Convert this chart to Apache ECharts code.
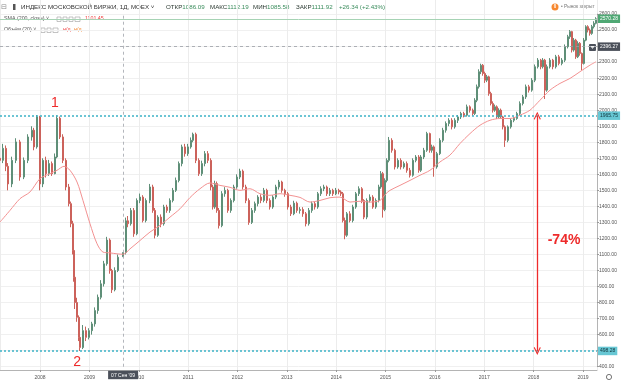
<!DOCTYPE html>
<html><head><meta charset="utf-8">
<script src="https://cdn.jsdelivr.net/npm/echarts@6/dist/echarts.min.js"></script>
<style>html,body{margin:0;padding:0;background:#fff}#c{width:622px;height:382px}</style>
</head><body><div id="c"></div>
<script>
// ---- data ----
const dates = [
'2007-03-11','2007-04-02','2007-04-24','2007-05-09','2007-06-08','2007-07-07','2007-08-06','2007-09-05','2007-10-04','2007-11-03',
'2007-11-18','2007-12-10','2008-01-01','2008-01-23','2008-02-14','2008-03-08','2008-03-30','2008-04-21','2008-05-06','2008-05-28',
'2008-06-19','2008-07-11','2008-08-03','2008-08-17','2008-09-01','2008-09-09','2008-09-16','2008-10-01','2008-10-16','2008-10-23',
'2008-11-14','2008-12-06','2008-12-29','2009-01-20','2009-02-11','2009-03-05','2009-03-27','2009-04-19','2009-05-11','2009-06-02',
'2009-06-17','2009-07-09','2009-07-31','2009-09-07','2009-09-28','2009-10-13','2009-11-04','2009-11-27','2009-12-19','2010-01-10',
'2010-02-01','2010-02-23','2010-03-25','2010-04-16','2010-05-01','2010-05-23','2010-06-14','2010-07-07','2010-07-29','2010-08-20',
'2010-09-11','2010-10-03','2010-10-26','2010-11-17','2010-12-09','2010-12-31','2011-01-22','2011-02-06','2011-02-28','2011-03-23',
'2011-04-14','2011-05-06','2011-05-28','2011-06-19','2011-07-04','2011-07-19','2011-08-03','2011-08-18','2011-09-09','2011-10-01',
'2011-10-23','2011-11-14','2011-12-07','2011-12-29','2012-01-20','2012-02-11','2012-03-04','2012-03-27','2012-04-18','2012-05-10',
'2012-06-01','2012-06-23','2012-07-16','2012-08-07','2012-08-29','2012-09-20','2012-10-12','2012-11-04','2012-11-26','2012-12-18',
'2013-01-09','2013-01-31','2013-02-23','2013-03-17','2013-04-08','2013-04-30','2013-05-22','2013-06-14','2013-07-06','2013-07-28',
'2013-08-19','2013-09-10','2013-10-03','2013-10-25','2013-11-16','2013-12-08','2013-12-30','2014-01-22','2014-02-05','2014-02-20',
'2014-03-07','2014-03-22','2014-04-13','2014-05-05','2014-05-27','2014-06-19','2014-07-11','2014-07-26','2014-08-17','2014-09-08',
'2014-09-30','2014-10-22','2014-11-14','2014-11-28','2014-12-13','2014-12-28','2015-01-12','2015-01-27','2015-02-18','2015-03-12',
'2015-04-03','2015-04-25','2015-05-18','2015-06-09','2015-07-01','2015-07-23','2015-08-14','2015-09-06','2015-09-20','2015-10-13',
'2015-11-04','2015-11-26','2015-12-11','2015-12-26','2016-01-17','2016-02-08','2016-03-01','2016-03-23','2016-04-15','2016-05-07',
'2016-05-29','2016-06-20','2016-07-12','2016-08-04','2016-08-26','2016-09-17','2016-10-09','2016-10-24','2016-11-08','2016-11-23',
'2016-12-07','2016-12-22','2017-01-06','2017-01-21','2017-02-05','2017-02-19','2017-03-06','2017-03-21','2017-04-05','2017-04-20',
'2017-05-04','2017-05-19','2017-06-03','2017-06-25','2017-07-17','2017-08-09','2017-08-31','2017-09-22','2017-10-14','2017-11-05',
'2017-11-28','2017-12-20','2018-01-11','2018-02-02','2018-02-24','2018-03-11','2018-03-26','2018-04-10','2018-05-02','2018-05-24',
'2018-06-15','2018-07-08','2018-07-30','2018-08-21','2018-09-12','2018-09-27','2018-10-12','2018-10-27','2018-11-10','2018-11-25',
'2018-12-10','2018-12-25','2019-01-09','2019-01-23','2019-02-07','2019-02-22','2019-03-09','2019-03-24','2019-04-08'
];
// [open, close, low, high]
const candles = [
[1700,1687,1650,1730],[1687,1762,1670,1790],[1762,1650,1620,1780],[1650,1540,1500,1670],[1540,1687,1520,1710],
[1687,1802,1670,1825],[1802,1583,1560,1815],[1583,1687,1570,1705],[1687,1833,1670,1850],[1833,1875,1810,1900],
[1875,1771,1750,1890],[1771,1958,1760,1970],[1958,1540,1500,1965],[1540,1687,1520,1700],[1687,1604,1580,1710],
[1604,1667,1590,1690],[1667,1604,1590,1680],[1604,1708,1600,1730],[1708,1950,1700,1968],[1950,1833,1820,1960],
[1833,1687,1670,1850],[1687,1521,1500,1700],[1521,1417,1400,1540],[1417,1292,1270,1430],[1292,1125,1100,1310],
[1125,958,930,1140],[958,800,760,1000],[800,708,680,830],[708,583,560,720],[583,520,498,600],
[520,625,510,660],[625,583,560,650],[583,625,570,640],[625,667,600,680],[667,750,650,770],
[750,833,730,850],[833,917,820,940],[917,1042,900,1060],[1042,1190,1030,1210],[1190,1000,980,1200],
[1000,880,860,1010],[880,1000,870,1020],[1000,1083,990,1100],[1086.09,1111.92,1085.58,1112.19],[1112,1310,1100,1330],
[1310,1292,1270,1340],[1292,1375,1280,1390],[1375,1229,1210,1390],[1229,1437,1220,1450],[1437,1458,1420,1480],
[1458,1312,1300,1470],[1312,1437,1300,1450],[1437,1521,1420,1540],[1521,1375,1360,1535],[1375,1220,1200,1390],
[1220,1333,1210,1345],[1333,1292,1270,1350],[1292,1396,1280,1410],[1396,1375,1360,1410],[1375,1437,1360,1450],
[1437,1500,1425,1515],[1500,1562,1490,1580],[1562,1667,1550,1680],[1667,1771,1650,1785],[1771,1729,1710,1790],
[1729,1771,1715,1790],[1771,1812,1760,1830],[1812,1850,1800,1860],[1850,1687,1670,1860],[1687,1604,1590,1700],
[1604,1667,1590,1685],[1667,1729,1650,1745],[1729,1687,1670,1745],[1687,1521,1500,1700],[1521,1396,1380,1535],
[1396,1542,1385,1560],[1542,1375,1360,1555],[1375,1280,1262,1390],[1280,1479,1270,1495],[1479,1500,1460,1520],
[1500,1375,1360,1510],[1375,1437,1360,1450],[1437,1521,1425,1535],[1521,1583,1510,1600],[1583,1620,1570,1635],
[1620,1521,1505,1630],[1521,1437,1420,1535],[1437,1300,1285,1450],[1300,1375,1290,1390],[1375,1417,1360,1430],
[1417,1458,1400,1470],[1458,1437,1420,1475],[1437,1500,1425,1515],[1500,1437,1420,1510],[1437,1396,1380,1450],
[1396,1458,1385,1470],[1458,1521,1445,1535],[1521,1552,1505,1565],[1552,1500,1485,1560],[1500,1479,1460,1510],
[1479,1396,1380,1490],[1396,1354,1340,1410],[1354,1420,1345,1435],[1420,1375,1360,1430],[1375,1380,1355,1395],
[1380,1354,1335,1395],[1354,1292,1275,1365],[1292,1375,1280,1390],[1375,1417,1360,1430],[1417,1396,1380,1430],
[1396,1479,1385,1490],[1479,1510,1465,1525],[1510,1521,1495,1535],[1521,1479,1465,1530],[1479,1500,1465,1515],
[1500,1479,1465,1510],[1479,1500,1470,1515],[1500,1490,1475,1510],[1490,1479,1465,1500],[1479,1312,1300,1490],
[1312,1220,1195,1330],[1220,1354,1210,1365],[1354,1312,1300,1370],[1312,1396,1300,1410],[1396,1479,1385,1490],
[1479,1510,1465,1525],[1510,1437,1420,1520],[1437,1333,1320,1445],[1333,1437,1320,1450],[1437,1458,1425,1475],
[1458,1396,1385,1470],[1396,1437,1385,1450],[1437,1521,1425,1535],[1521,1604,1510,1620],[1604,1380,1330,1615],
[1380,1562,1370,1575],[1562,1687,1550,1700],[1687,1812,1675,1833],[1812,1750,1735,1825],[1750,1646,1630,1760],
[1646,1687,1635,1700],[1687,1646,1630,1700],[1646,1667,1635,1680],[1667,1625,1610,1680],[1625,1594,1580,1640],
[1594,1687,1585,1700],[1687,1708,1675,1720],[1708,1625,1610,1720],[1625,1708,1615,1720],[1708,1750,1695,1765],
[1750,1854,1740,1865],[1854,1750,1735,1860],[1750,1771,1735,1785],[1771,1646,1585,1780],[1646,1729,1635,1740],
[1729,1812,1720,1825],[1812,1875,1800,1890],[1875,1917,1860,1930],[1917,1937,1900,1950],[1937,1896,1880,1950],
[1896,1937,1885,1950],[1937,1958,1920,1970],[1958,1979,1945,1990],[1979,1969,1955,1990],[1969,2021,1960,2035],
[2021,2000,1985,2030],[2000,1979,1965,2010],[1979,2062,1970,2075],[2062,2146,2050,2160],[2146,2240,2135,2255],
[2240,2280,2225,2290],[2280,2229,2215,2288],[2229,2187,2170,2240],[2187,2208,2175,2220],[2208,2104,2090,2215],
[2104,2042,2030,2115],[2042,2000,1985,2055],[2000,2021,1990,2035],[2021,1958,1945,2030],[1958,2000,1950,2012],
[2000,1958,1945,2010],[1958,1896,1880,1965],[1896,1812,1771,1905],[1812,1896,1800,1905],[1896,1937,1885,1950],
[1937,1948,1925,1960],[1948,1979,1940,1990],[1979,2042,1970,2055],[2042,2083,2030,2095],[2083,2146,2070,2160],
[2146,2125,2110,2158],[2125,2187,2115,2200],[2187,2271,2175,2285],[2271,2312,2260,2325],[2312,2271,2255,2320],
[2271,2312,2260,2325],[2312,2125,2070,2320],[2125,2271,2115,2285],[2271,2312,2260,2325],[2312,2271,2255,2320],
[2271,2333,2260,2345],[2333,2292,2280,2345],[2292,2312,2280,2325],[2312,2396,2300,2410],[2396,2458,2385,2470],
[2458,2490,2445,2500],[2490,2375,2360,2495],[2375,2437,2365,2450],[2437,2333,2320,2445],[2333,2417,2325,2430],
[2417,2354,2340,2425],[2354,2292,2250,2360],[2292,2437,2285,2450],[2437,2521,2430,2530],[2521,2500,2485,2530],
[2500,2479,2465,2510],[2479,2521,2470,2532],[2521,2542,2510,2555],[2542,2570.28,2535,2580]
];
const smaDates = [
'2007-03-11','2007-05-24','2007-08-06','2007-10-19','2008-01-01','2008-03-15','2008-05-06','2008-06-27','2008-08-10','2008-10-01',
'2008-11-14','2009-01-05','2009-02-26','2009-04-11','2009-06-02','2009-07-24','2009-09-07','2009-10-28','2010-01-10','2010-03-25',
'2010-06-07','2010-08-20','2010-11-02','2011-01-15','2011-03-30','2011-06-12','2011-08-25','2011-11-07','2012-01-20','2012-04-03',
'2012-06-16','2012-08-29','2012-11-11','2013-01-24','2013-04-08','2013-06-21','2013-09-03','2013-11-16','2014-01-29','2014-04-13',
'2014-06-26','2014-09-08','2014-11-21','2015-01-04','2015-02-03','2015-04-18','2015-07-01','2015-09-13','2015-11-26','2016-02-08',
'2016-04-22','2016-07-05','2016-09-17','2016-11-30','2017-02-12','2017-04-27','2017-07-10','2017-09-22','2017-12-05','2018-02-17',
'2018-05-02','2018-07-15','2018-09-27','2018-12-10','2019-02-22','2019-04-08'
];
const smaValues = [
1302,1375,1448,1490,1573,1604,1625,1650,1625,1552,
1437,1292,1167,1115,1110,1104,1101.45,1135,1187,1240,
1281,1333,1385,1455,1510,1546,1531,1519,1500,1510,
1479,1469,1479,1469,1456,1427,1437,1454,1458,1427,
1432,1427,1437,1479,1500,1531,1562,1594,1625,1677,
1720,1792,1854,1906,1937,1948,1948,1969,2000,2062,
2125,2167,2198,2240,2281,2302
];
const keyLevels = [1965.75, 498.28];      // dotted cyan levels
const lastPrice = 2570.28;
const crossPrice = 2396.27;
const crossDate = '2009-09-07';
const crossDateLabel = "07 Сен '09";
const arrowDate = '2018-01-28';
const notes = [
  {text:'1', date:'2008-04-21', value:2045},
  {text:'2', date:'2008-10-01', value:429},
  {text:'-74%', date:'2018-08-14', value:1190}
];
const header = {
  title: 'ИНДЕКС МОСКОВСКОЙ БИРЖИ, 1Д, MOEX',
  ohlc: [['ОТКР','1086.09'],['МАКС','1112.19'],['МИН','1085.58'],['ЗАКР','1111.92'],['','+26.34 (+2.43%)']],
  sma: 'SMA (200, close)', smaValue: '1101.45',
  vol: 'Объём (20)', volValues: ['н/д','н/д'],
  status: '• Рынок закрыт'
};

// ---- chart ----
function ts(s){const p=s.split('-').map(Number);return new Date(p[0],p[1]-1,p[2]).getTime();}
const YEAR = 365*24*3600*1000;
const xMin = ts('2007-03-11'), xMax = ts('2019-04-15');
const FONT = '"Liberation Sans", Arial, sans-serif';
const red = '#ee2b2b';
const chev = 'path://M0,9 L5,0 L10,9 L8.8,10 L5,3 L1.2,10 Z';

const chart = echarts.init(document.getElementById('c'), null, {renderer:'canvas'});
const ohlcX = [166,210,253,296,339];
const graphic = [
  {type:'text', x:1, y:7, style:{text:'⊟', font:'7px "DejaVu Sans"', fill:'#8a8a8a', verticalAlign:'middle'}},
  {type:'rect', shape:{x:13,y:4,width:2.5,height:6}, style:{fill:'#555'}},
  {type:'text', x:21, y:7, style:{text:header.title+' ˅', font:'6.2px '+FONT, fill:'#333', verticalAlign:'middle'}},
  {type:'text', x:4, y:19, style:{text:header.sma+' ˅', font:'5.3px '+FONT, fill:'#555', verticalAlign:'middle'}},
  {type:'text', x:85, y:19, style:{text:header.smaValue, font:'5.3px '+FONT, fill:'#f03c3c', verticalAlign:'middle'}},
  {type:'text', x:4, y:30, style:{text:header.vol+' ˅', font:'5.3px '+FONT, fill:'#555', verticalAlign:'middle'}},
  {type:'text', x:63, y:30, style:{text:header.volValues[0], font:'5.3px '+FONT, fill:'#f03c3c', verticalAlign:'middle'}},
  {type:'text', x:74, y:30, style:{text:header.volValues[1], font:'5.3px '+FONT, fill:'#f5862e', verticalAlign:'middle'}},
  {type:'circle', shape:{cx:555, cy:7, r:3.5}, style:{fill:'#f7882f'}},
  {type:'text', x:555, y:7, style:{text:'0', font:'bold 4.5px '+FONT, fill:'#fff', align:'center', verticalAlign:'middle'}},
  {type:'text', x:561, y:7, style:{text:header.status, font:'4.8px '+FONT, fill:'#787878', verticalAlign:'middle'}},
  {type:'rect', shape:{x:589,y:44,width:7,height:7,r:1}, style:{fill:'#4b505a'}},
  {type:'text', x:592.5, y:47.5, style:{text:'+', font:'6px '+FONT, fill:'#fff', align:'center', verticalAlign:'middle'}},
  {type:'circle', shape:{cx:609, cy:377, r:2.6}, style:{fill:'none', stroke:'#666', lineWidth:0.9}}
];
[[57,4],[63,4],[69,4],[75,5]].forEach(b=>graphic.push({type:'rect', shape:{x:b[0],y:17,width:b[1],height:4.5}, style:{fill:'#fff', stroke:'#aaa', lineWidth:0.7}}));
[[41,4],[47,4],[53,5]].forEach(b=>graphic.push({type:'rect', shape:{x:b[0],y:28,width:b[1],height:4.5}, style:{fill:'#fff', stroke:'#aaa', lineWidth:0.7}}));
header.ohlc.forEach((g,i)=>graphic.push({type:'text', x:ohlcX[i], y:7, style:{
  text:(g[0]?g[0]:'')+'{v|'+g[1]+'}', font:'6.2px '+FONT, fill:'#2c3a32', verticalAlign:'middle',
  rich:{v:{fill:'#3a8c5c', font:'6.2px '+FONT}}}}));

const rightLabel = (txt,bg,col)=>({show:true, position:'end', formatter:txt, backgroundColor:bg, color:col,
  fontSize:5, fontFamily:'Liberation Sans', padding:[2,2,1.5,2], distance:1});

const option = {
  backgroundColor:'#fff',
  animation:false,
  graphic: graphic,
  grid:[
    {left:0, right:25, top:14, bottom:15.3},
    {left:0, right:25, top:0, bottom:12}
  ],
  xAxis:[
    {type:'time', gridIndex:0, min:xMin, max:xMax, offset:3.3, minInterval:YEAR, maxInterval:YEAR,
     axisLine:{show:true, lineStyle:{color:'#b4b4b4', width:1}},
     axisTick:{show:true, length:2, lineStyle:{color:'#999'}},
     axisLabel:{fontSize:5, color:'#555', margin:5, fontFamily:'Liberation Sans',
       formatter:v=>String(new Date(v).getFullYear())},
     splitLine:{show:false}},
    {type:'time', gridIndex:1, min:xMin, max:xMax, minInterval:YEAR, maxInterval:YEAR,
     axisLine:{show:false}, axisTick:{show:false}, axisLabel:{show:false},
     splitLine:{show:true, lineStyle:{color:'#ececec', width:1}}}
  ],
  yAxis:[
    {type:'value', gridIndex:0, position:'right', min:400, max:2600, interval:100,
     axisLine:{show:true, lineStyle:{color:'#b4b4b4', width:1}},
     axisTick:{show:true, length:2, lineStyle:{color:'#999'}},
     axisLabel:{fontSize:5, color:'#555', margin:2, fontFamily:'Liberation Sans', formatter:v=>v.toFixed(2)},
     splitLine:{show:true, lineStyle:{color:'#f0f0f0', width:1}}},
    {type:'value', gridIndex:1, min:0, max:1, show:false, splitLine:{show:false}}
  ],
  series:[
    {type:'line', xAxisIndex:1, yAxisIndex:1, data:[], silent:true},
    {type:'candlestick', xAxisIndex:0, yAxisIndex:0, barWidth:1.6,
     data: dates.map((d,i)=>[ts(d)].concat(candles[i])),
     itemStyle:{color:'#6a9c84', color0:'#d3706a', borderColor:'#5f8f78', borderColor0:'#cc625b', borderWidth:1},
     markLine:{silent:true, symbol:'none', animation:false,
       data:[
         {yAxis:lastPrice, lineStyle:{color:'#a6d3b4', type:'solid', width:1},
          label:rightLabel(lastPrice.toFixed(2),'#4fa874','#fff')},
         {yAxis:crossPrice, lineStyle:{color:'#9a9ea6', type:[3,3], width:0.8},
          label:rightLabel(crossPrice.toFixed(2),'#4b505a','#fff')},
         {yAxis:keyLevels[0], lineStyle:{color:'#3db3c6', type:[2,2], width:1.5},
          label:rightLabel(keyLevels[0].toFixed(2),'#67c7d4','#11343b')},
         {yAxis:keyLevels[1], lineStyle:{color:'#3db3c6', type:[2,2], width:1.5},
          label:rightLabel(keyLevels[1].toFixed(2),'#67c7d4','#11343b')},
         {xAxis:ts(crossDate), lineStyle:{color:'#a0a4ab', type:[3,3], width:0.8},
          label:{show:true, position:'start', formatter:crossDateLabel, backgroundColor:'#4b505a', color:'#fff',
            fontSize:5, fontFamily:'Liberation Sans', padding:[2,3,1.5,3], distance:4}}
       ]},
     markPoint:{silent:true, symbol:'circle', symbolSize:0, animation:false,
       data: notes.map(n=>({name:n.text, coord:[ts(n.date), n.value],
         label:{show:true, position:'inside', formatter:'{b}', color:red, fontFamily:'Liberation Sans',
           fontSize:14, fontWeight: n.text.length>1 ? 'bold':'normal'}}))}
    },
    {type:'line', xAxisIndex:0, yAxisIndex:0, showSymbol:false, smooth:0.3,
     data: smaDates.map((d,i)=>[ts(d), smaValues[i]]),
     lineStyle:{color:'#f29191', width:1},
     markLine:{silent:true, animation:false, symbol:[chev,chev], symbolSize:[7,8],
       lineStyle:{color:red, width:1.3, type:'solid'}, label:{show:false},
       data:[[{coord:[ts(arrowDate), keyLevels[0]]},{coord:[ts(arrowDate), keyLevels[1]]}]]}
    }
  ]
};
chart.setOption(option);
</script>
</body></html>
